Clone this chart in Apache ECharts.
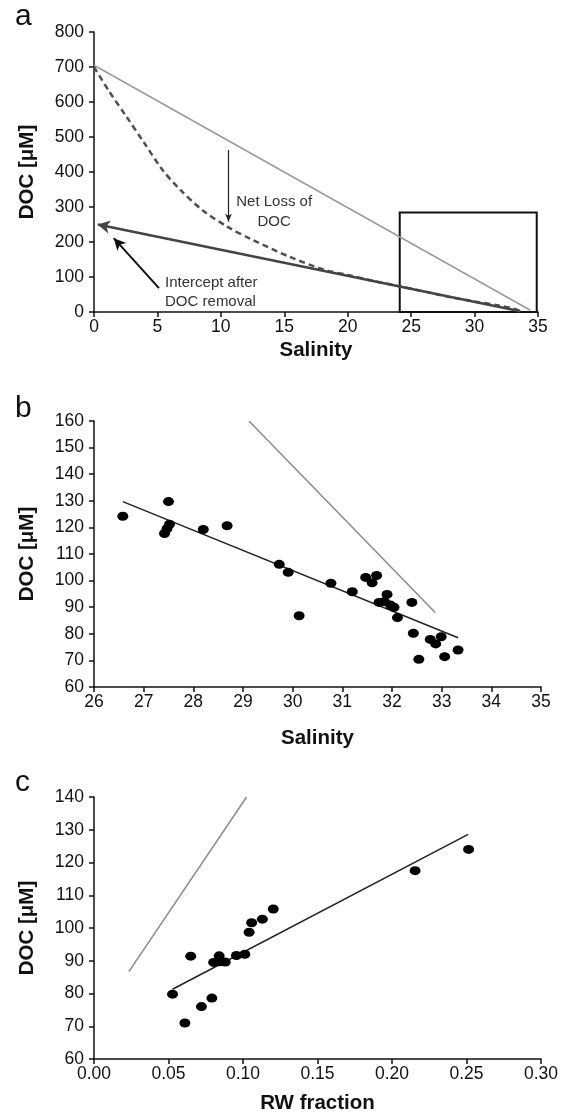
<!DOCTYPE html>
<html><head><meta charset="utf-8">
<script src="https://cdn.jsdelivr.net/npm/echarts/dist/echarts.min.js"></script>
<style>html,body{margin:0;padding:0;background:#fff}#c{width:566px;height:1116px}</style>
</head><body><div id="c"></div>
<script>
// ---------- Panel a data ----------
const aMixSal = [0, 34.4];
const aMixDoc = [705, 5];
const aCurveSal = [0, 1.13, 2.56, 3.98, 5.4, 6.83, 8.55, 10.5, 12.5, 15.4, 18.2, 20, 22, 24, 26, 28, 30, 32, 33, 33.8];
const aCurveDoc = [700, 634, 558, 482, 406, 348, 291, 244, 206, 158, 120, 106, 89, 74, 59, 43, 30, 18, 10, 1];
const aRemovalSal = [33.6, 0.3];
const aRemovalDoc = [2, 250];
const aNetLossArrowSal = [10.6, 10.6];
const aNetLossArrowDoc = [463, 258];
const aInterceptArrowSal = [5.12, 1.56];
const aInterceptArrowDoc = [68, 211];
const aBoxSal = [24.1, 34.9];
const aBoxDoc = [0, 284];
const aXTicks = {min: 0, max: 35, interval: 5};
const aYTicks = {min: 0, max: 800, interval: 100};

// ---------- Panel b data ----------
const bSal = [26.58, 27.5, 27.42, 27.47, 27.52, 28.2, 28.68, 29.73, 29.91, 30.13, 30.77, 31.2, 31.47, 31.6, 31.69, 31.74, 31.9, 31.85, 31.97, 32.04, 32.11, 32.4, 32.43, 32.54, 32.77, 32.88, 32.99, 33.06, 33.33];
const bDoc = [124.2, 129.7, 117.7, 119.5, 121.2, 119.2, 120.6, 106.1, 103.1, 86.8, 99.0, 95.8, 101.2, 99.2, 101.9, 91.8, 94.8, 92.1, 90.8, 90.0, 86.1, 91.8, 80.2, 70.4, 77.9, 76.2, 78.9, 71.4, 73.9];
const bFitSal = [26.58, 33.33];
const bFitDoc = [129.7, 78.5];
const bMixSal = [29.12, 32.87];
const bMixDoc = [160, 88];
const bXTicks = {min: 26, max: 35, interval: 1};
const bYTicks = {min: 60, max: 160, interval: 10};

// ---------- Panel c data ----------
const cRw = [0.0527, 0.061, 0.0649, 0.0721, 0.0791, 0.0803, 0.084, 0.0842, 0.0881, 0.0956, 0.1012, 0.1041, 0.1058, 0.113, 0.1203, 0.2155, 0.2514];
const cDoc = [79.8, 71.0, 91.4, 76.0, 78.6, 89.5, 91.5, 89.7, 89.6, 91.6, 92.0, 98.7, 101.6, 102.7, 105.8, 117.5, 124.0];
const cFitRw = [0.0527, 0.2511];
const cFitDoc = [81.3, 128.6];
const cMixRw = [0.0234, 0.1024];
const cMixDoc = [86.7, 140];
const cXTicks = {min: 0, max: 0.30, interval: 0.05};
const cYTicks = {min: 60, max: 140, interval: 10};

const FONT = 'Liberation Sans, Arial, sans-serif';
const zip = (xs, ys) => xs.map((x, i) => [x, ys[i]]);

function xAxis(gi, t, name, nameGap, fmt) {
  return {
    type: 'value', gridIndex: gi, min: t.min, max: t.max, interval: t.interval,
    name: name, nameLocation: 'middle', nameGap: nameGap,
    nameTextStyle: {fontFamily: FONT, fontWeight: 'bold', fontSize: 20.5, color: '#111'},
    axisLine: {show: true, onZero: false, lineStyle: {color: '#111', width: 1.5}},
    axisTick: {show: true, inside: false, length: 5, lineStyle: {color: '#111', width: 1.5}},
    axisLabel: {fontFamily: FONT, fontSize: 17.5, color: '#111', margin: 6, formatter: fmt},
    splitLine: {show: false}
  };
}
function yAxis(gi, t) {
  return {
    type: 'value', gridIndex: gi, min: t.min, max: t.max, interval: t.interval,
    name: 'DOC [μM]', nameLocation: 'middle', nameRotate: 90, nameGap: 56,
    nameTextStyle: {fontFamily: FONT, fontWeight: 'bold', fontSize: 20.5, color: '#111'},
    axisLine: {show: true, onZero: false, lineStyle: {color: '#111', width: 1.5}},
    axisTick: {show: true, inside: false, length: 5, lineStyle: {color: '#111', width: 1.5}},
    axisLabel: {fontFamily: FONT, fontSize: 17.5, color: '#111', margin: 10},
    splitLine: {show: false}
  };
}
function plainLine(xi, data, color, width, type) {
  return {type: 'line', xAxisIndex: xi, yAxisIndex: xi, data: data, symbol: 'none',
    lineStyle: {color: color, width: width, type: type || 'solid'}, silent: true, z: 2};
}
function arrowLine(xi, xs, ys, color, width, size) {
  return {type: 'line', xAxisIndex: xi, yAxisIndex: xi, data: [], silent: true,
    markLine: {silent: true, symbol: ['none', 'arrow'], symbolSize: size, label: {show: false},
      lineStyle: {color: color, width: width, type: 'solid'},
      data: [[{coord: [xs[0], ys[0]]}, {coord: [xs[1], ys[1]]}]]}};
}
function dots(xi, data) {
  return {type: 'scatter', xAxisIndex: xi, yAxisIndex: xi, data: data, symbol: 'circle',
    symbolSize: [11, 9], itemStyle: {color: '#000', opacity: 1}, silent: true, z: 3};
}

const chart = echarts.init(document.getElementById('c'), null, {renderer: 'canvas'});
chart.setOption({
  animation: false,
  backgroundColor: '#fff',
  grid: [
    {left: 94, top: 32, width: 444, height: 280},
    {left: 94, top: 421, width: 447, height: 266},
    {left: 94, top: 797, width: 447, height: 262}
  ],
  xAxis: [
    xAxis(0, aXTicks, 'Salinity', 28),
    xAxis(1, bXTicks, 'Salinity', 41),
    xAxis(2, cXTicks, 'RW fraction', 34, v => v.toFixed(2))
  ],
  yAxis: [yAxis(0, aYTicks), yAxis(1, bYTicks), yAxis(2, cYTicks)],
  series: [
    plainLine(0, zip(aMixSal, aMixDoc), '#9a9a9a', 1.5),
    Object.assign(plainLine(0, zip(aCurveSal, aCurveDoc), '#505050', 2.5, [6, 4]), {smooth: 0.3}),
    arrowLine(0, aRemovalSal, aRemovalDoc, '#444', 2.5, [10, 12]),
    arrowLine(0, aNetLossArrowSal, aNetLossArrowDoc, '#222', 1.2, [5, 8]),
    arrowLine(0, aInterceptArrowSal, aInterceptArrowDoc, '#111', 2, [9, 12]),
    {type: 'line', xAxisIndex: 0, yAxisIndex: 0, data: [], silent: true,
      markArea: {silent: true, itemStyle: {color: 'rgba(0,0,0,0)', borderColor: '#111', borderWidth: 2},
        data: [[{coord: [aBoxSal[0], aBoxDoc[0]]}, {coord: [aBoxSal[1], aBoxDoc[1]]}]]}},
    plainLine(1, zip(bMixSal, bMixDoc), '#8a8a8a', 1.5),
    plainLine(1, zip(bFitSal, bFitDoc), '#222', 1.5),
    dots(1, zip(bSal, bDoc)),
    plainLine(2, zip(cMixRw, cMixDoc), '#8a8a8a', 1.5),
    plainLine(2, zip(cFitRw, cFitDoc), '#222', 1.5),
    dots(2, zip(cRw, cDoc))
  ]
});

// annotation text placed via data coordinates of panel a
const netLossPos = chart.convertToPixel({gridIndex: 0}, [14.2, 343]);
const interceptPos = chart.convertToPixel({gridIndex: 0}, [5.6, 111]);
const annoFont = '15px ' + FONT;
chart.setOption({
  graphic: [
    {type: 'text', left: 15, top: 2, style: {text: 'a', font: '30px ' + FONT, fill: '#111'}},
    {type: 'text', left: 15, top: 394, style: {text: 'b', font: '30px ' + FONT, fill: '#111'}},
    {type: 'text', left: 15, top: 768, style: {text: 'c', font: '30px ' + FONT, fill: '#111'}},
    {type: 'text', x: netLossPos[0], y: netLossPos[1],
      style: {text: 'Net Loss of\nDOC', font: annoFont, fill: '#333', align: 'center', verticalAlign: 'top', lineHeight: 20}},
    {type: 'text', x: interceptPos[0], y: interceptPos[1],
      style: {text: 'Intercept after\nDOC removal', font: annoFont, fill: '#333', align: 'left', verticalAlign: 'top', lineHeight: 19}}
  ]
});
</script></body></html>
